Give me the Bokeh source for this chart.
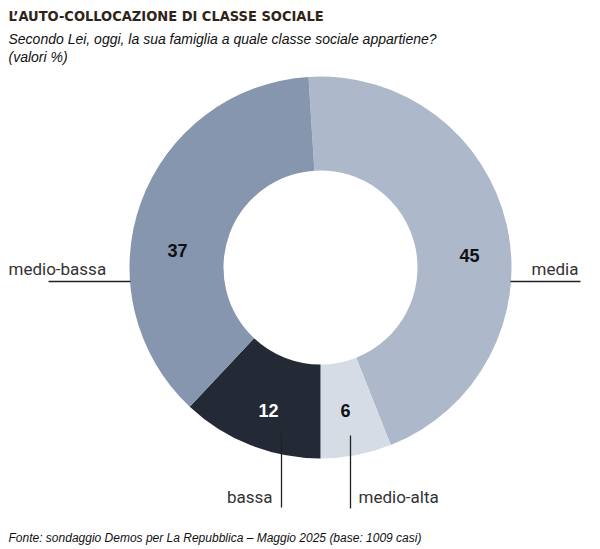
import math
from bokeh.plotting import figure
from bokeh.models import Range1d, ColumnDataSource
from bokeh.core.properties import value
from bokeh.embed import file_html
from bokeh.resources import INLINE

# ---- data ----
categories = ["media", "medio-alta", "bassa", "medio-bassa"]
values = [45, 6, 12, 37]
colors = ["#adb8cb", "#d6dce5", "#232a36", "#8596ae"]
value_colors = ["#111111", "#111111", "#ffffff", "#111111"]

title = "L\u2019AUTO-COLLOCAZIONE DI CLASSE SOCIALE"
subtitle = "Secondo Lei, oggi, la sua famiglia a quale classe sociale appartiene?"
unit_note = "(valori %)"
source_note = "Fonte: sondaggio Demos per La Repubblica \u2013 Maggio 2025 (base: 1009 casi)"

# ---- layout ----
W, H = 600, 549
def px(x): return x
def py(y): return H - y

cx, cy = px(320), py(267)
r_out, r_in = 191, 97
start_cw = -3.6  # degrees clockwise from top

p = figure(width=W, height=H, x_range=Range1d(0, W), y_range=Range1d(0, H),
           output_backend="svg", toolbar_location=None, min_border=0,
           outline_line_color=None)
p.axis.visible = False
p.grid.visible = False
p.background_fill_color = "white"
p.border_fill_color = "white"

total = sum(values)
starts, ends = [], []
acc = start_cw
for v in values:
    a0 = acc
    a1 = acc + v / total * 360.0
    starts.append(math.radians(90 - a0))
    ends.append(math.radians(90 - a1))
    acc = a1

src = ColumnDataSource(dict(x=[cx] * len(values), y=[cy] * len(values),
                            s=starts, e=ends, c=colors))
p.annular_wedge(x="x", y="y", inner_radius=r_in, outer_radius=r_out,
                start_angle="s", end_angle="e", direction="clock",
                fill_color="c", line_color=None, source=src)

# value labels (positions in page px)
val_pos = [(469, 255), (345, 410), (268, 410), (177, 250)]
p.text(x=[px(a) for a, b in val_pos], y=[py(b) for a, b in val_pos],
       text=[str(v) for v in values], text_color=value_colors,
       text_font=value("Liberation Sans"), text_font_style="bold",
       text_font_size="18px", text_align="center", text_baseline="middle")

# leader lines
lc = "#222222"
ly = py(281)
p.segment(x0=[px(48), cx + r_out - 1], y0=[ly, ly],
          x1=[cx - r_out + 1, px(580)], y1=[ly, ly], line_color=lc, line_width=1.3)
p.segment(x0=[px(281), px(350)], y0=[py(433), py(435)],
          x1=[px(281), px(350)], y1=[py(507), py(508)], line_color=lc, line_width=1.3)

# category labels
lab_font = value("Roboto")
fs = "17px"
p.text(x=[px(8)], y=[py(268)], text=[categories[3]], text_font=lab_font,
       text_font_size=fs, text_color="#333333", text_baseline="middle", text_align="left")
p.text(x=[px(578)], y=[py(268)], text=[categories[0]], text_font=lab_font,
       text_font_size=fs, text_color="#333333", text_baseline="middle", text_align="right")
p.text(x=[px(272)], y=[py(496)], text=[categories[2]], text_font=lab_font,
       text_font_size=fs, text_color="#333333", text_baseline="middle", text_align="right")
p.text(x=[px(358)], y=[py(496)], text=[categories[1]], text_font=lab_font,
       text_font_size=fs, text_color="#333333", text_baseline="middle", text_align="left")

# titles
p.text(x=[px(8)], y=[py(15)], text=[title], text_font=value("DejaVu Sans Condensed"),
       text_font_style="bold", text_font_size="14.5px", text_color="#2f2418",
       text_baseline="middle", text_align="left")
p.text(x=[px(8)], y=[py(38)], text=[subtitle], text_font=value("Liberation Sans"),
       text_font_style="italic", text_font_size="14px", text_color="#111111",
       text_baseline="middle", text_align="left")
p.text(x=[px(8)], y=[py(56)], text=[unit_note], text_font=value("Liberation Sans"),
       text_font_style="italic", text_font_size="14px", text_color="#111111",
       text_baseline="middle", text_align="left")
p.text(x=[px(8)], y=[py(537)], text=[source_note], text_font=value("Liberation Sans"),
       text_font_style="italic", text_font_size="12px", text_color="#111111",
       text_baseline="middle", text_align="left")

open("out.html", "w").write(file_html(p, INLINE))
